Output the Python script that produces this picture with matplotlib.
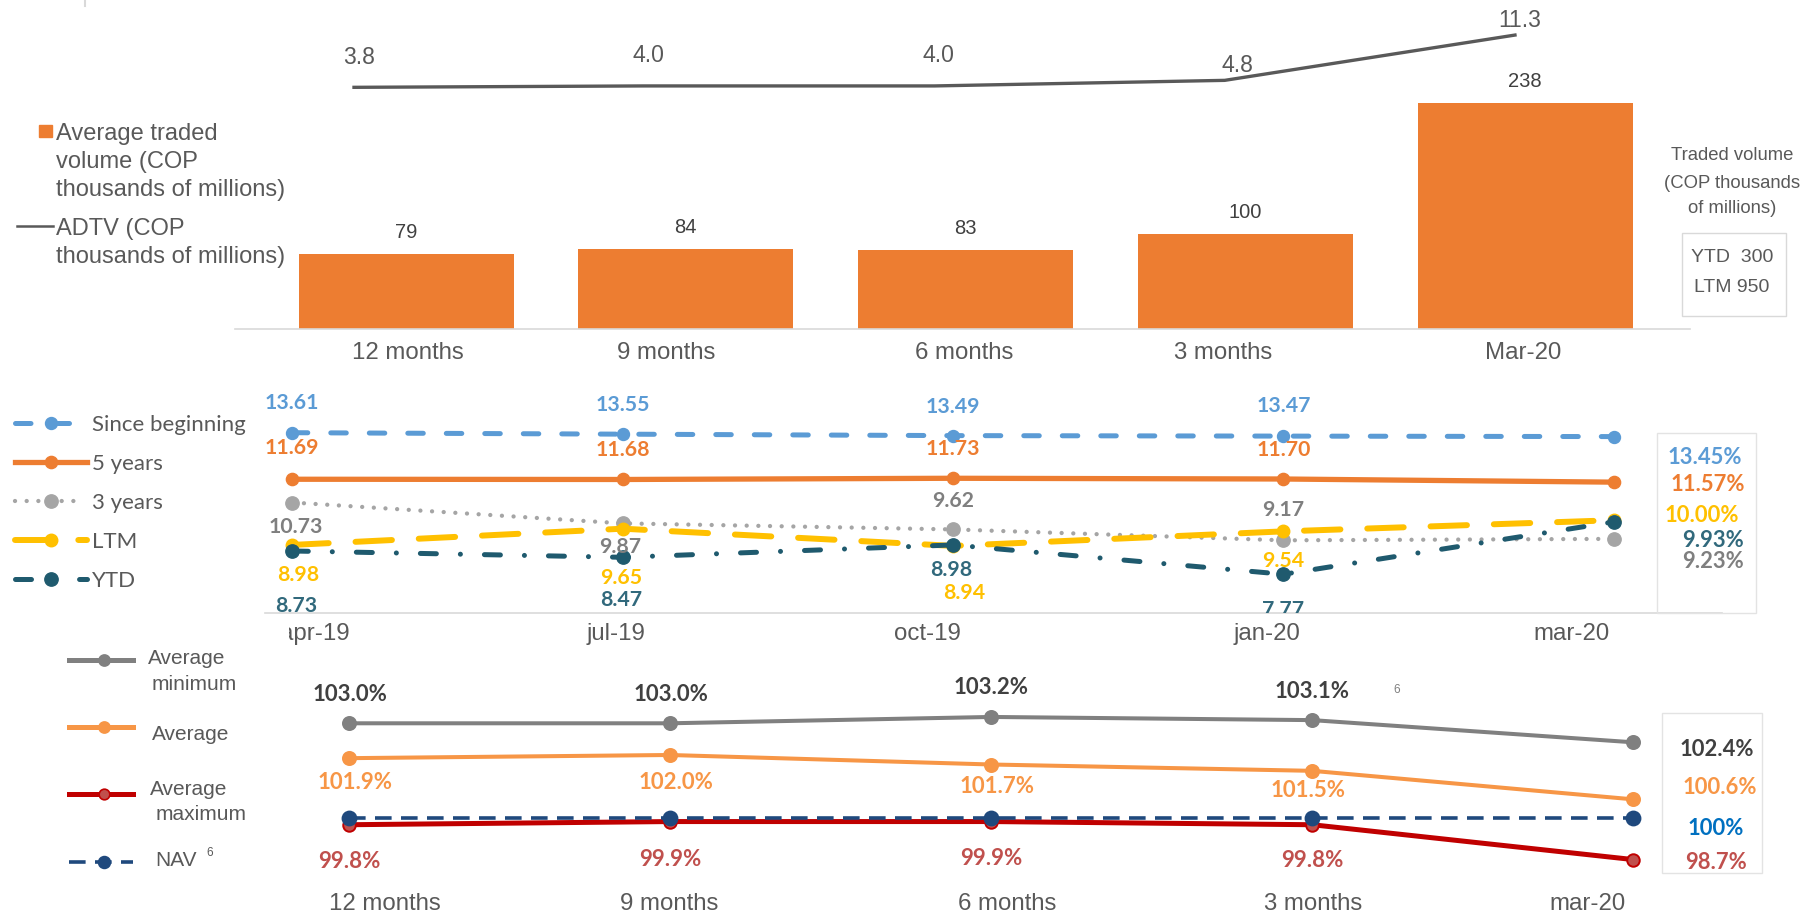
import numpy as np
import matplotlib
matplotlib.use("Agg")
import matplotlib.pyplot as plt
from matplotlib.patches import Rectangle

plt.rcParams['font.family'] = ['Liberation Sans', 'DejaVu Sans']

# ---------------- data ----------------
top_periods = ["12 months", "9 months", "6 months", "3 months", "Mar-20"]
traded_volume = [79, 84, 83, 100, 238]
adtv = [3.8, 4.0, 4.0, 4.8, 11.3]

mid_dates = ["apr-19", "jul-19", "oct-19", "jan-20", "mar-20"]
since_beginning = [13.61, 13.55, 13.49, 13.47, 13.45]
five_years = [11.69, 11.68, 11.73, 11.70, 11.57]
three_years = [10.73, 9.87, 9.62, 9.17, 9.23]
ltm = [8.98, 9.65, 8.94, 9.54, 10.00]
ytd = [8.73, 8.47, 8.98, 7.77, 9.93]

bot_periods = ["12 months", "9 months", "6 months", "3 months", "mar-20"]
avg_minimum = [103.0, 103.0, 103.2, 103.1, 102.4]
average = [101.9, 102.0, 101.7, 101.5, 100.6]
avg_maximum = [99.8, 99.9, 99.9, 99.8, 98.7]
nav = [100, 100, 100, 100, 100]

ytd_volume = 300
ltm_volume = 950

# ---------------- layout helpers ----------------
W, H = 1808, 915
PX = 0.72  # pixel -> point at dpi 100
fig = plt.figure(figsize=(W / 100, H / 100), dpi=100)


def panel(x0, y0, x1, y1):
    ax = fig.add_axes([x0 / W, 1 - y1 / H, (x1 - x0) / W, (y1 - y0) / H])
    ax.patch.set_alpha(0)
    return ax


lay = fig.add_axes([0, 0, 1, 1], zorder=5)
lay.set_xlim(0, W)
lay.set_ylim(H, 0)
lay.axis('off')

GREY_TXT = '#595959'
AXIS_C = '#D9D9D9'
ORANGE = '#ED7D31'
LATO_B = dict(family=['Lato', 'DejaVu Sans'], weight='bold')
LATO = dict(family=['Lato', 'DejaVu Sans'])

# ================= TOP PANEL =================
x = np.arange(len(top_periods))
axb = panel(235, 20, 1690, 329.3)
axb.bar(x, traded_volume, width=0.769, color=ORANGE, zorder=1)
axb.set_xlim(-0.6115, 4.589)
axb.set_ylim(0, 324.9)
for s in ['top', 'right', 'left']:
    axb.spines[s].set_visible(False)
axb.spines['bottom'].set_color(AXIS_C)
axb.spines['bottom'].set_linewidth(1.2)
axb.set_xticks([])
axb.set_yticks([])
for i, v in enumerate(traded_volume):
    axb.annotate(f"{v}", (i, v), xytext=(0, 23.5 * PX), textcoords='offset points',
                 ha='center', va='center_baseline', fontsize=14.5, color='#404040')
top_tick_dx = [1.4, -20, -1.5, -22.7, -2]
for i, (lab, dx) in enumerate(zip(top_periods, top_tick_dx)):
    axb.annotate(lab, (i, 0), xycoords=('data', 'axes fraction'),
                 xytext=(dx * PX, -21 * PX), textcoords='offset points',
                 ha='center', va='center_baseline', fontsize=17.3, color=GREY_TXT,
                 annotation_clip=False)

axl = panel(235, 20, 1690, 329.3)
axl.axis('off')
axl.set_xlim(-0.41, 4.603)
axl.set_ylim(-30.92, 13.46)
axl.plot(x, adtv, color=GREY_TXT, lw=2.4, solid_joinstyle='round')
adtv_off = [(4.8, 32), (4.6, 32.6), (4.3, 32.6), (12.8, 17), (4.5, 16.7)]
for i, (v, (dx, dy)) in enumerate(zip(adtv, adtv_off)):
    axl.annotate(f"{v:.1f}", (i, v), xytext=(dx * PX, dy * PX), textcoords='offset points',
                 ha='center', va='center_baseline', fontsize=16.6, color=GREY_TXT)

# top legend
lay.add_patch(Rectangle((39, 125), 12.7, 12.3, color=ORANGE))
for txt, yy in [("Average traded", 131.7), ("volume (COP", 159.3),
                ("thousands of millions)", 187.3), ("ADTV (COP", 226),
                ("thousands of millions)", 254)]:
    lay.text(56.3, yy, txt, fontsize=17, color=GREY_TXT, va='center_baseline', ha='left')
lay.plot([17.2, 52.8], [226, 226], color=GREY_TXT, lw=1.8)

# right note
for txt, yy in [("Traded volume", 153.3), ("(COP thousands", 181.7), ("of millions)", 206.7)]:
    lay.text(1732.3, yy, txt, fontsize=13.3, color=GREY_TXT, ha='center', va='center_baseline')
lay.add_patch(Rectangle((1681.7, 233), 104.2, 83, fill=False, ec=AXIS_C, lw=1))
lay.text(1732, 255.7, f"YTD  {ytd_volume}", fontsize=14, color=GREY_TXT, ha='center', va='center_baseline')
lay.text(1732, 285, f"LTM {ltm_volume}", fontsize=14, color=GREY_TXT, ha='center', va='center_baseline')
lay.plot([85, 85], [0, 5.7], color=AXIS_C, lw=1.5)

# ================= MIDDLE PANEL =================
axm = panel(265, 370, 1722, 612.7)
axm.set_xlim(-0.0826, 4.3272)
axm.set_ylim(6.184, 16.197)
for s in ['top', 'right', 'left']:
    axm.spines[s].set_visible(False)
axm.spines['bottom'].set_color(AXIS_C)
axm.spines['bottom'].set_linewidth(1.2)
axm.set_xticks([])
axm.set_yticks([])

mid_series = [
    ("Since beginning", since_beginning, '#5B9BD5', '#5B9BD5', dict(lw=3.6, dashes=[3.1, 4.6], dash_capstyle='round'), 8.6),
    ("5 years", five_years, ORANGE, ORANGE, dict(lw=3.8), 8.8),
    ("3 years", three_years, '#A5A5A5', '#7F7F7F', dict(lw=3.1, dashes=[0.01, 2.7], dash_capstyle='round'), 9.6),
    ("LTM", ltm, '#FFC000', '#FFC000', dict(lw=4.3, dashes=[6.1, 4.5], dash_capstyle='round'), 9.0),
    ("YTD", ytd, '#1F5A6E', '#31697C', dict(lw=3.6, dashes=[3.2, 4.8, 0.01, 4.8], dash_capstyle='round'), 9.6),
]
mid_offsets = [
    [(0, 31.7), (0, 31), (0, 30.7), (0, 32)],
    [(0, 33), (0, 31.3), (0, 31.7), (0, 31)],
    [(3.7, -22.3), (-2.7, -22), (0, 30), (0, 32)],
    [(5.7, -28.4), (-2, -47), (10.6, -44.8), (0, -28)],
    [(3.5, -53.3), (-2, -41), (-2, -23.4), (0, -34)],
]
xm = np.arange(len(mid_dates))
for (name, vals, col, lcol, st, ms), offs in zip(mid_series, mid_offsets):
    axm.plot(xm, vals, color=col, marker='o', ms=ms, mfc=col, mec=col, **st)
    for i, (dx, dy) in enumerate(offs):
        axm.annotate(f"{vals[i]:.2f}", (i, vals[i]), xytext=(dx * PX, dy * PX),
                     textcoords='offset points', ha='center', va='center_baseline',
                     fontsize=15.3, color=lcol, clip_on=True, **LATO_B)

mid_tick_dx = [22.7, -6.9, -26.1, -16.5, -42.4]
for i, (lab, dx) in enumerate(zip(mid_dates, mid_tick_dx)):
    t = axm.annotate(lab, (i, 0), xycoords=('data', 'axes fraction'),
                     xytext=(dx * PX, -19 * PX), textcoords='offset points',
                     ha='center', va='center_baseline', fontsize=17.3, color=GREY_TXT,
                     annotation_clip=False)
    if i == 0:
        t.set_clip_on(True)
        t.set_clip_path(Rectangle((289 / W, 0), 1, 1, transform=fig.transFigure))

# right box (middle)
lay.add_patch(Rectangle((1657.5, 432.7), 98.4, 180, fill=False, ec='#E3E3E3', lw=1))
mid_box_pos = [(1704.9, 456), (1707.7, 482.7), (1713.5, 559.3), (1702, 514), (1713.5, 538.3)]
for (name, vals, col, lcol, st, ms), (bx, by) in zip(mid_series, mid_box_pos):
    lay.text(bx, by, f"{vals[-1]:.2f}%", ha='center', va='center_baseline',
             fontsize=15.8, color=lcol, **LATO_B)

# middle legend
leg_y = [422.7, 461.7, 500.7, 540, 579.3]
leg_x_end = [77, 86.7, 78, 86.7, 86.7]
for (name, vals, col, lcol, st, ms), yy, xe in zip(mid_series, leg_y, leg_x_end):
    lay.plot([15, 50.7, xe], [yy, yy, yy], color=col, marker='o', ms=ms, mfc=col, mec=col,
             markevery=[1], **st)
    lay.text(92, yy, name, fontsize=16, color=GREY_TXT, ha='left', va='center_baseline', **LATO)

# ================= BOTTOM PANEL =================
axn = panel(265, 650, 1730, 890)
axn.set_xlim(-0.2616, 4.3008)
axn.set_ylim(97.741, 105.312)
axn.axis('off')
xn = np.arange(len(bot_periods))

bot_series = [
    ("min", avg_minimum, '#808080', '#808080', '#404040', dict(lw=2.9), 9.4),
    ("avg", average, '#F79646', '#F79646', '#F79646', dict(lw=2.9), 9.4),
    ("max", avg_maximum, '#C00000', '#C0504D', '#C0504D', dict(lw=3.6), 9.0),
    ("nav", nav, '#1F497D', '#1F497D', '#0070C0', dict(lw=2.6, dashes=[4.6, 2.6]), 10.0),
]
bot_offsets = [
    [(1, 31), (0.6, 31), (0, 31.5), (0, 31)],
    [(5.7, -22), (6.3, -25.6), (5.8, -20), (-4, -17.4)],
    [(0, -35), (0, -36), (0, -35), (0, -34)],
    [],
]
for (key, vals, col, mfc, lcol, st, ms), offs in zip(bot_series, bot_offsets):
    axn.plot(xn, vals, color=col, marker='o', ms=ms, mfc=mfc, mec=col, mew=1.4, **st)
    for i, (dx, dy) in enumerate(offs):
        axn.annotate(f"{vals[i]:.1f}%", (i, vals[i]), xytext=(dx * PX, dy * PX),
                     textcoords='offset points', ha='center', va='center_baseline',
                     fontsize=16, color=lcol, **LATO_B)

bot_tick_dx = [35.5, -1.2, 16.3, 1, -45.6]
for i, (lab, dx) in enumerate(zip(bot_periods, bot_tick_dx)):
    axn.annotate(lab, (i, 0), xycoords=('data', 'axes fraction'),
                 xytext=(dx * PX, -11.5 * PX), textcoords='offset points',
                 ha='center', va='center_baseline', fontsize=17.3, color=GREY_TXT,
                 annotation_clip=False)

lay.text(1396.3, 688.3, "6", fontsize=8.5, color='#7F7F7F', ha='center', va='center_baseline')

# right box (bottom)
lay.add_patch(Rectangle((1661.7, 713.3), 100, 159.4, fill=False, ec='#E3E3E3', lw=1))
bot_box = [(1717, 747.7, f"{avg_minimum[-1]:.1f}%", '#404040'),
           (1719.5, 786, f"{average[-1]:.1f}%", '#F79646'),
           (1716.2, 826.7, f"{nav[-1]:.0f}%", '#0070C0'),
           (1715.7, 860.7, f"{avg_maximum[-1]:.1f}%", '#C0504D')]
for bx, by, txt, c in bot_box:
    lay.text(bx, by, txt, ha='center', va='center_baseline', fontsize=15.8, color=c, **LATO_B)

# bottom legend
bleg_y = [660, 727.3, 794, 861.7]
for (key, vals, col, mfc, lcol, st, ms), yy in zip(bot_series, bleg_y):
    stl = dict(st)
    if key != 'nav':
        stl['lw'] = 3.6
    lay.plot([69, 104.5, 133], [yy, yy, yy], color=col, marker='o', ms=ms * 0.85, mfc=mfc,
             mec=col, mew=1.2, markevery=[1], **stl)
for txt, xx, yy in [("Average", 148, 656.7), ("minimum", 152, 682.7),
                    ("Average", 152, 732.7),
                    ("Average", 150.4, 787.3), ("maximum", 156, 812.3),
                    ("NAV", 155, 858.3)]:
    lay.text(xx, yy, txt, fontsize=15, color=GREY_TXT, ha='left', va='center_baseline')
lay.text(206, 852, "6", fontsize=8.5, color=GREY_TXT, ha='left', va='center_baseline')

fig.savefig("out.png", dpi=100)
